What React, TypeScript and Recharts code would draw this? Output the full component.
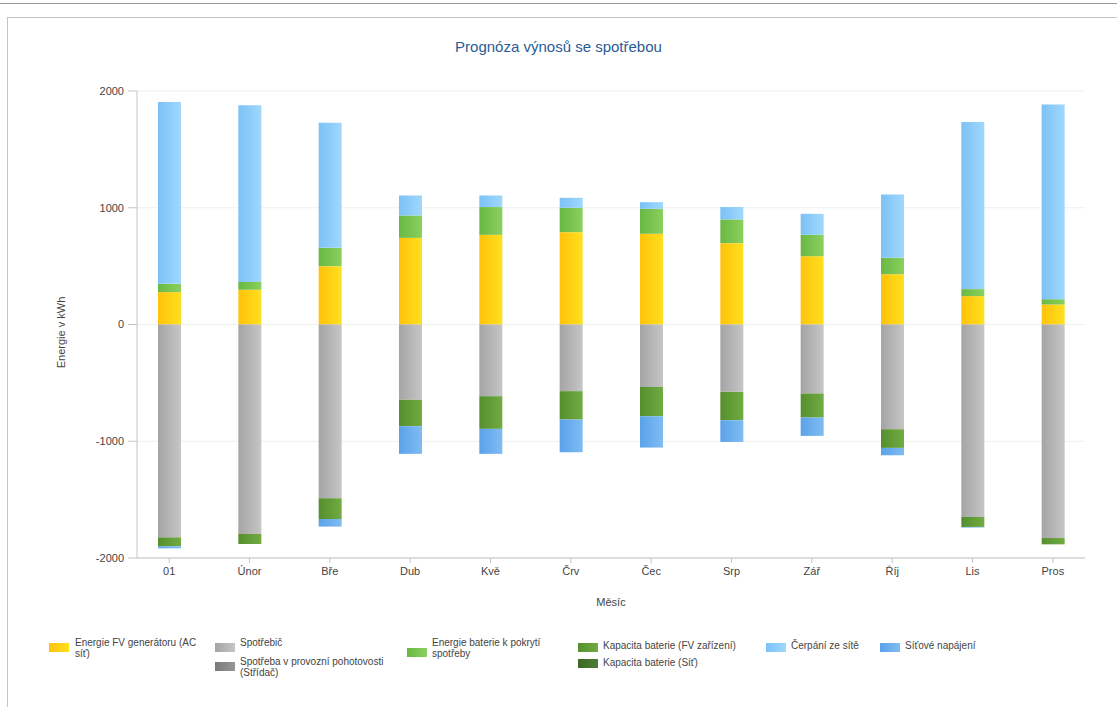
import { Bar, BarChart, CartesianGrid, XAxis, YAxis } from 'recharts'

const months = ['01', 'Únor', 'Bře', 'Dub', 'Kvě', 'Črv', 'Čec', 'Srp', 'Zář', 'Říj', 'Lis', 'Pros']

// positive stack (bottom → top)
const fvGenerator = [277, 297, 500, 742, 768, 791, 777, 697, 585, 431, 243, 171]
const bateriePokryti = [71, 66, 157, 192, 238, 209, 214, 203, 183, 140, 60, 46]
const cerpaniSit = [1557, 1514, 1071, 171, 99, 85, 57, 106, 180, 543, 1431, 1667]

// negative stack (top → bottom)
const spotrebic = [-1823, -1794, -1488, -645, -614, -571, -535, -577, -591, -897, -1649, -1829]
const pohotovost = [0, 0, 0, 0, 0, 0, 0, 0, 0, 0, 0, 0]
const kapacitaFv = [-77, -86, -178, -226, -280, -243, -251, -243, -206, -160, -85, -54]
const kapacitaSit = [0, 0, 0, 0, 0, 0, 0, 0, 0, 0, 0, 0]
const sitoveNapajeni = [-17, 0, -65, -237, -214, -280, -268, -186, -157, -63, -5, 0]

const yTicks = [-2000, -1000, 0, 1000, 2000]

const data = months.map((m, i) => ({
  month: m,
  fv: fvGenerator[i],
  spotrebic: spotrebic[i],
  pohotovost: pohotovost[i],
  baterie: bateriePokryti[i],
  kapFv: kapacitaFv[i],
  kapSit: kapacitaSit[i],
  cerpani: cerpaniSit[i],
  sitove: sitoveNapajeni[i],
}))

const series = [
  { key: 'fv', name: 'Energie FV generátoru (AC síť)', from: '#ffc20a', to: '#ffe01e' },
  { key: 'spotrebic', name: 'Spotřebič', from: '#a4a4a4', to: '#c6c6c6' },
  { key: 'pohotovost', name: 'Spotřeba v provozní pohotovosti (Střídač)', from: '#7a7a7a', to: '#969696' },
  { key: 'baterie', name: 'Energie baterie k pokrytí spotřeby', from: '#69b843', to: '#8bd05f' },
  { key: 'kapFv', name: 'Kapacita baterie (FV zařízení)', from: '#558f2e', to: '#72ab42' },
  { key: 'kapSit', name: 'Kapacita baterie (Síť)', from: '#3a6824', to: '#4f7f35' },
  { key: 'cerpani', name: 'Čerpání ze sítě', from: '#7cc1f6', to: '#a0d8fd' },
  { key: 'sitove', name: 'Síťové napájení', from: '#5aa2ea', to: '#80bcf3' },
]

const font = '"Liberation Sans", Arial, sans-serif'
const textColor = '#444'

function Swatch({ from, to, left, top }: { from: string; to: string; left: number; top: number }) {
  return (
    <div
      style={{
        position: 'absolute',
        left,
        top,
        width: 20,
        height: 9,
        background: `linear-gradient(to right, ${from}, ${to})`,
      }}
    />
  )
}

function LegendText({ lines, left, top }: { lines: string[]; left: number; top: number }) {
  return (
    <div style={{ position: 'absolute', left, top, fontSize: 10, lineHeight: '11px', color: textColor, whiteSpace: 'nowrap' }}>
      {lines.map((l, i) => (
        <div key={i}>{l}</div>
      ))}
    </div>
  )
}

export default function App() {
  const s = (k: string) => series.find((x) => x.key === k)!
  return (
    <div
      style={{
        position: 'absolute',
        left: 0,
        top: 0,
        width: 1117,
        height: 707,
        overflow: 'hidden',
        background: '#fff',
        fontFamily: font,
      }}
    >
      <div style={{ position: 'absolute', left: 0, top: 3, width: 1117, height: 1, background: '#9a9a9a' }} />
      <div
        style={{
          position: 'absolute',
          left: 7,
          top: 17,
          width: 1200,
          height: 800,
          border: '1px solid #c4c4c4',
        }}
      />

      <div
        style={{
          position: 'absolute',
          left: 0,
          top: 38,
          width: 1117,
          textAlign: 'center',
          fontSize: 15,
          color: '#2b5c95',
        }}
      >
        Prognóza výnosů se spotřebou
      </div>

      <div style={{ position: 'absolute', left: 0, top: 0 }}>
        <BarChart
          width={1117}
          height={707}
          data={data}
          stackOffset="sign"
          barSize={23}
          margin={{ top: 91, right: 32, bottom: 99, left: 0 }}
        >
          <defs>
            {series.map((sr) => (
              <linearGradient key={sr.key} id={`g-${sr.key}`} x1="0" y1="0" x2="1" y2="0">
                <stop offset="0%" stopColor={sr.from} />
                <stop offset="100%" stopColor={sr.to} />
              </linearGradient>
            ))}
          </defs>
          <CartesianGrid vertical={false} stroke="#efefef" />
          <XAxis
            dataKey="month"
            height={50}
            padding={{ left: -8, right: -8 }}
            tickSize={5}
            tickMargin={4}
            stroke="#c4c4c4"
            tick={{ fontSize: 11, fill: textColor, fontFamily: font }}
            label={{ value: 'Měsíc', position: 'insideBottom', offset: 2, fontSize: 11, fill: textColor, fontFamily: font }}
          />
          <YAxis
            width={137}
            domain={[-2000, 2000]}
            ticks={yTicks}
            tickSize={9}
            tickMargin={4}
            stroke="#c4c4c4"
            tick={{ fontSize: 11, fill: textColor, fontFamily: font }}
            label={{
              value: 'Energie v kWh',
              angle: -90,
              position: 'insideLeft',
              offset: 61,
              dx: 0,
              dy: 8,
              fontSize: 11,
              fill: textColor,
              fontFamily: font,
              style: { textAnchor: 'middle' },
            }}
          />
          {series.map((sr) => (
            <Bar
              key={sr.key}
              dataKey={sr.key}
              name={sr.name}
              stackId="a"
              fill={`url(#g-${sr.key})`}
              isAnimationActive={false}
            />
          ))}
        </BarChart>
      </div>

      {/* legend */}
      <Swatch from={s('fv').from} to={s('fv').to} left={49} top={643} />
      <LegendText lines={['Energie FV generátoru (AC', 'síť)']} left={75} top={637} />

      <Swatch from={s('spotrebic').from} to={s('spotrebic').to} left={215} top={643} />
      <LegendText lines={['Spotřebič']} left={240} top={637} />
      <Swatch from={s('pohotovost').from} to={s('pohotovost').to} left={215} top={662} />
      <LegendText lines={['Spotřeba v provozní pohotovosti', '(Střídač)']} left={240} top={656} />

      <Swatch from={s('baterie').from} to={s('baterie').to} left={407} top={648} />
      <LegendText lines={['Energie baterie k pokrytí', 'spotřeby']} left={432} top={637} />

      <Swatch from={s('kapFv').from} to={s('kapFv').to} left={578} top={643} />
      <LegendText lines={['Kapacita baterie (FV zařízení)']} left={603} top={640} />
      <Swatch from={s('kapSit').from} to={s('kapSit').to} left={578} top={659} />
      <LegendText lines={['Kapacita baterie (Síť)']} left={603} top={657} />

      <Swatch from={s('cerpani').from} to={s('cerpani').to} left={766} top={643} />
      <LegendText lines={['Čerpání ze sítě']} left={791} top={640} />

      <Swatch from={s('sitove').from} to={s('sitove').to} left={880} top={643} />
      <LegendText lines={['Síťové napájení']} left={905} top={640} />
    </div>
  )
}
